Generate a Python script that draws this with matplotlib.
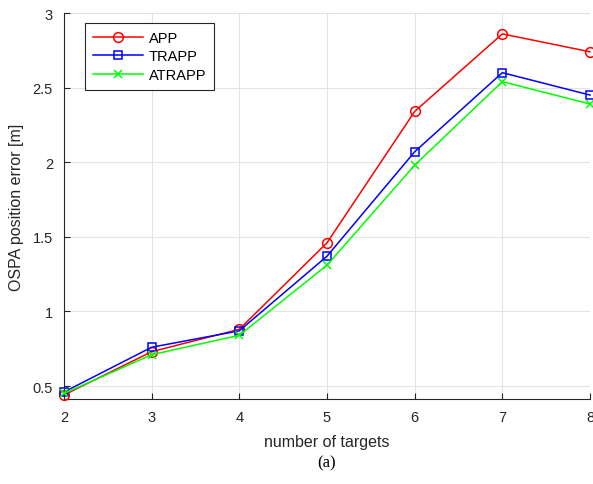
import matplotlib
matplotlib.use("Agg")
import matplotlib.pyplot as plt

# OSPA position error vs. number of targets
n_targets = [2, 3, 4, 5, 6, 7, 8]
app = [0.44, 0.73, 0.88, 1.46, 2.34, 2.86, 2.74]
trapp = [0.46, 0.76, 0.87, 1.37, 2.07, 2.60, 2.45]
atrapp = [0.45, 0.71, 0.84, 1.31, 1.98, 2.54, 2.39]

plt.rcParams['font.family'] = ['Liberation Sans', 'DejaVu Sans']

fig = plt.figure(figsize=(5.93, 4.85), dpi=100)
ax = fig.add_axes([64 / 593, 85 / 485, 526 / 593, 386 / 485])

ax.plot(n_targets, app, color="#ff0000", lw=1.1, marker="o", ms=7,
        mfc="none", mew=1.1, label="APP", clip_on=False, zorder=3)
ax.plot(n_targets, trapp, color="#0000ff", lw=1.1, marker="s", ms=6,
        mfc="none", mew=1.1, label="TRAPP", clip_on=False, zorder=3)
ax.plot(n_targets, atrapp, color="#00ff00", lw=1.1, marker="x", ms=6,
        mew=1.1, label="ATRAPP", clip_on=False, zorder=3)

ax.set_xlim(2, 8)
ax.set_ylim(0.413, 3)
ax.set_xticks(n_targets)
ax.set_yticks([0.5, 1, 1.5, 2, 2.5, 3])
ax.set_yticklabels(["0.5", "1", "1.5", "2", "2.5", "3"])
ax.tick_params(direction="in", labelsize=10.5, colors="#262626", length=4,
               pad=8)
ax.grid(True, color="#e3e3e3", lw=0.8)
ax.set_axisbelow(True)
for side in ("top", "right"):
    ax.spines[side].set_visible(False)
for side in ("left", "bottom"):
    ax.spines[side].set_color("#262626")
    ax.spines[side].set_linewidth(0.8)

ax.set_xlabel("number of targets", fontsize=11.5, color="#262626", labelpad=7)
ax.set_ylabel("OSPA position error [m]", fontsize=11.5, color="#262626",
              labelpad=6)

leg = ax.legend(loc="upper left", bbox_to_anchor=(0.04, 0.974), fontsize=10.5,
                fancybox=False, framealpha=1, edgecolor="#262626",
                handlelength=3.4, borderpad=0.55, labelspacing=0.3,
                borderaxespad=0, handletextpad=0.4)
leg.get_frame().set_linewidth(0.8)

fig.text(0.5 * (64 + 590) / 593, 1 - 463 / 485, "(a)",
         family="Liberation Serif", fontsize=12, ha="center", va="center")

fig.savefig("out.png", dpi=100)
